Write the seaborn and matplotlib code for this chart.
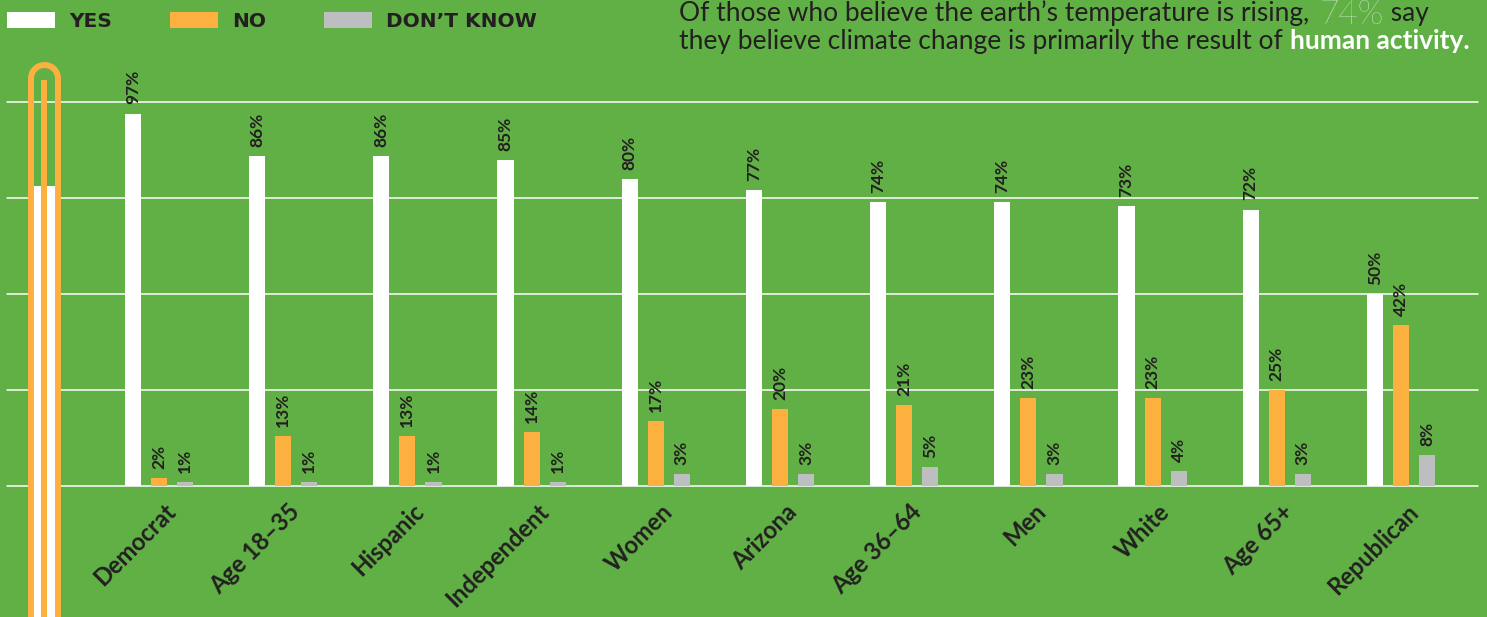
import matplotlib
matplotlib.use("Agg")
import matplotlib.pyplot as plt
import matplotlib.transforms as mtransforms
from matplotlib.lines import Line2D
from matplotlib.patches import Rectangle
import numpy as np
import pandas as pd
import seaborn as sns

# ---------------- data ----------------
groups = ["Democrat", "Age 18–35", "Hispanic", "Independent", "Women", "Arizona",
          "Age 36–64", "Men", "White", "Age 65+", "Republican"]
yes = [97, 86, 86, 85, 80, 77, 74, 74, 73, 72, 50]
no = [2, 13, 13, 14, 17, 20, 21, 23, 23, 25, 42]
dont_know = [1, 1, 1, 1, 3, 3, 5, 3, 4, 3, 8]
responses = ["YES", "NO", "DON’T KNOW"]
gridline_values = [0, 25, 50, 75, 100]

header_line1 = "Of those who believe the earth’s temperature is rising, "
header_highlight = "74%"
header_line1_end = " say"
header_line2 = "they believe climate change is primarily the result of "
header_line2_bold = "human activity."

# ---------------- style ----------------
GREEN = "#60b046"
WHITE = "#ffffff"
ORANGE = "#fbb040"
GREY = "#bcbec0"
DARK = "#231f20"

sns.set_theme(style="white")
plt.rcParams["font.family"] = ["Lato", "DejaVu Sans"]

W, H = 1487, 617
fig = plt.figure(figsize=(W / 100, H / 100), dpi=100, facecolor=GREEN)

ax_left, ax_right, ax_bottom, ax_top = 7, 1478, 486, 102
ax = fig.add_axes([ax_left / W, 1 - ax_bottom / H, (ax_right - ax_left) / W,
                   (ax_bottom - ax_top) / H])
ax.set_facecolor("none")

df = pd.DataFrame({
    "group": groups * 3,
    "response": [responses[0]] * len(groups) + [responses[1]] * len(groups)
                + [responses[2]] * len(groups),
    "value": yes + no + dont_know,
})

sns.barplot(data=df, x="group", y="value", hue="response", order=groups,
            hue_order=responses, palette=[WHITE, ORANGE, GREY], saturation=1,
            width=0.63, gap=0.385, errorbar=None, ax=ax, zorder=3, linewidth=0)

# value labels
for cont in ax.containers:
    vals = [int(round(b.get_height())) for b in cont]
    ax.bar_label(cont, labels=[f"{v}%" for v in vals], padding=6.5, rotation=90,
                 fontsize=12.5, fontweight="bold", color=DARK, clip_on=False)

# axes ranges: group spacing ~124.2 px, first group centre at x=159 px
spacing = 124.2
ax.set_xlim((ax_left - 159) / spacing, (ax_right - 159) / spacing)
ax.set_ylim(0, 100)
ax.set_yticks(gridline_values)
ax.set_yticklabels([])
ax.yaxis.grid(True, color="white", linewidth=1.1)
ax.xaxis.grid(False)
ax.set_axisbelow(True)
for gl in ax.get_ygridlines():
    gl.set_clip_on(False)
for s in ax.spines.values():
    s.set_visible(False)
ax.tick_params(axis="both", length=0)
ax.set_xlabel("")
ax.set_ylabel("")

ax.set_xticks(range(len(groups)))
ax.set_xticklabels(groups, rotation=45, ha="right", va="top",
                   rotation_mode="anchor", fontsize=17, fontweight="bold",
                   color=DARK)
ax.tick_params(axis="x", pad=10)
offset = mtransforms.ScaledTranslation(5 / 100, 0, fig.dpi_scale_trans)
for lbl in ax.get_xticklabels():
    lbl.set_transform(lbl.get_transform() + offset)

# legend
handles, labels = ax.get_legend_handles_labels()
leg = ax.legend(handles, labels, loc="upper left",
                bbox_to_anchor=(7 / W, 1 - 12 / H), bbox_transform=fig.transFigure,
                ncol=3, frameon=False, borderpad=0, borderaxespad=0,
                handlelength=2.4, handleheight=0.8, handletextpad=0.7,
                columnspacing=2.85,
                prop={"family": "DejaVu Sans", "weight": "bold", "size": 14.5},
                labelcolor=DARK)

# overlay axes in pixel coordinates for decoration and header text
axo = fig.add_axes([0, 0, 1, 1])
axo.set_xlim(0, W)
axo.set_ylim(H, 0)
axo.axis("off")
axo.set_facecolor("none")

# thermometer
lw_px = 6 * 72 / 100
axo.add_patch(Rectangle((34, 186), 21, 450, facecolor=WHITE, edgecolor="none", zorder=1))
t = np.linspace(np.pi, 0, 60)
tx = np.concatenate([[31, 31], 44.5 + 13.5 * np.cos(t), [58, 58]])
ty = np.concatenate([[640, 78.5], 78.5 - 13.5 * np.sin(t), [78.5, 640]])
axo.add_line(Line2D(tx, ty, color=ORANGE, lw=lw_px, solid_capstyle="butt",
                    solid_joinstyle="round", zorder=2))
axo.add_line(Line2D([44, 44], [80, 640], color=ORANGE, lw=lw_px,
                    solid_capstyle="butt", zorder=2))

# header text with mixed styles
renderer = fig.canvas.get_renderer()
hdr_size = 19
x0 = 679
t1 = axo.text(x0, 21, header_line1, fontsize=hdr_size, color=DARK, va="baseline")
x1 = t1.get_window_extent(renderer).x1
t2 = axo.text(x1 + 4, 24, header_highlight, fontsize=24, color=WHITE,
              fontweight="light", va="baseline")
x2 = t2.get_window_extent(renderer).x1
axo.text(x2, 21, header_line1_end, fontsize=hdr_size, color=DARK, va="baseline")
t4 = axo.text(x0, 49, header_line2, fontsize=hdr_size, color=DARK, va="baseline")
x4 = t4.get_window_extent(renderer).x1
axo.text(x4, 49, header_line2_bold, fontsize=hdr_size, color=WHITE,
         fontweight="bold", va="baseline")

fig.savefig("out.png", dpi=100, facecolor=GREEN)
